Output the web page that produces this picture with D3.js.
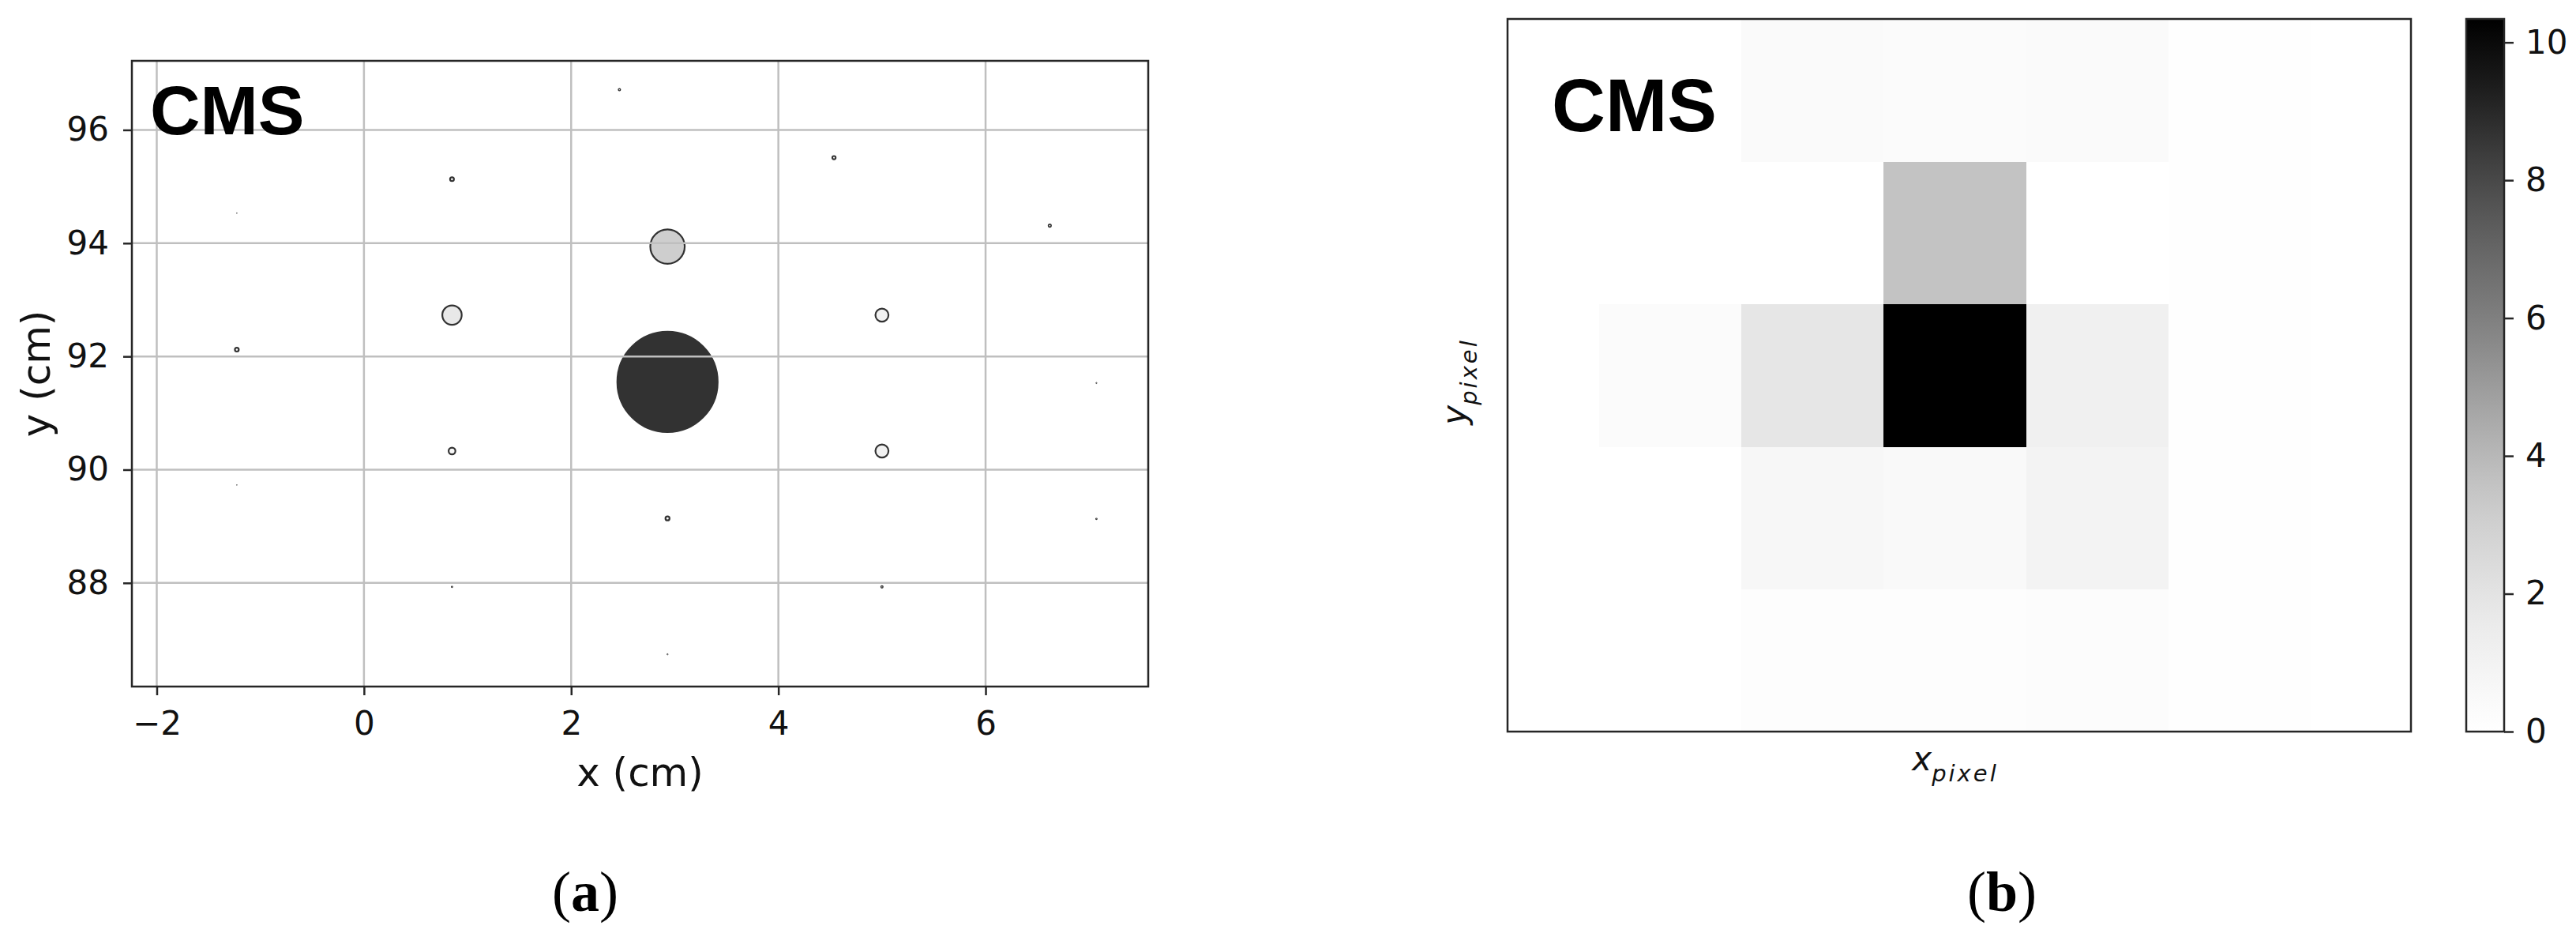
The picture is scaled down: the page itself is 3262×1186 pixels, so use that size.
<!DOCTYPE html>
<html>
<head>
    <meta charset="utf-8">
    <title>CMS hits and pixel image</title>
    <script src="https://d3js.org/d3.v7.min.js"></script>
    <style>
        body { margin: 0; background: #fff; }
    </style>
</head>
<body>
    <svg id="chart" width="3262" height="1186"></svg>

    <script>
        // hits on the hexagonal sensors (a)
        const hitX = [-1.227, -1.227, -1.227, 0.85, 0.85, 0.85, 0.85, 2.466, 2.93, 2.93, 2.93, 2.93, 4.537, 5.0, 5.0, 5.0, 6.62, 7.07, 7.07];
        const hitY = [94.53, 92.12, 89.73, 95.13, 92.73, 90.33, 87.93, 96.71, 93.94, 91.55, 89.14, 86.74, 95.51, 92.73, 90.33, 87.93, 94.31, 91.53, 89.13];
        const hitE = [0.08, 0.4, 0.08, 0.4, 2.0, 0.7, 0.15, 0.22, 3.55, 10.34, 0.42, 0.12, 0.35, 1.35, 1.35, 0.22, 0.28, 0.12, 0.15];
        const xTicks = [-2, 0, 2, 4, 6];
        const yTicks = [88, 90, 92, 94, 96];

        // pixelised image (b), rows top to bottom
        const pixelRows = [
            [0.00, 0.40, 0.33, 0.40, 0.05],
            [0.00, 0.00, 3.55, 0.00, 0.12],
            [0.35, 1.85, 10.34, 1.20, 0.10],
            [0.00, 0.70, 0.52, 1.02, 0.10],
            [0.00, 0.15, 0.15, 0.26, 0.10]
        ];
        const cbTicks = [0, 2, 4, 6, 8, 10];
        const eMax = 10.34;

        const svg = d3.select("#chart");
        svg.append("rect").attr("width", 3262).attr("height", 1186).attr("fill", "#fff");

        const grey = d3.scaleSequential(d3.interpolateGreys).domain([0, eMax]);
        const frameCol = "#262626";
        const sans = "DejaVu Sans";

        // ---------- panel (a) ----------
        const A = { left: 167, right: 1454, top: 77, bottom: 869 };
        const x = d3.scaleLinear().domain([-2.24, 7.57]).range([A.left, A.right]);
        const y = d3.scaleLinear().domain([86.17, 97.22]).range([A.bottom, A.top]);
        const r = d3.scaleLinear().domain([0, eMax]).range([0, 63.5]);

        svg.append("clipPath").attr("id", "clipA")
            .append("rect").attr("x", A.left).attr("y", A.top)
            .attr("width", A.right - A.left).attr("height", A.bottom - A.top);

        const hits = hitE.map((e, i) => ({ x: hitX[i], y: hitY[i], e: e }));

        svg.append("g").attr("clip-path", "url(#clipA)")
            .selectAll("circle").data(hits).join("circle")
            .attr("cx", d => x(d.x))
            .attr("cy", d => y(d.y))
            .attr("r", d => r(d.e))
            .attr("fill", d => grey(d.e))
            .attr("stroke", "#000")
            .attr("stroke-width", d => Math.min(2.2, 0.3 + r(d.e) * 0.8))
            .attr("opacity", 0.8);

        // grid sits on top of the markers
        const grid = svg.append("g").attr("stroke", "#bfbfbf").attr("stroke-width", 2.5);
        grid.selectAll(".gx").data(xTicks).join("line")
            .attr("x1", d => x(d)).attr("x2", d => x(d))
            .attr("y1", A.top).attr("y2", A.bottom);
        grid.selectAll(".gy").data(yTicks).join("line")
            .attr("y1", d => y(d)).attr("y2", d => y(d))
            .attr("x1", A.left).attr("x2", A.right);

        const xAxis = svg.append("g").attr("transform", `translate(0,${A.bottom})`)
            .call(d3.axisBottom(x).tickValues(xTicks).tickSize(11).tickPadding(20));
        const yAxis = svg.append("g").attr("transform", `translate(${A.left},0)`)
            .call(d3.axisLeft(y).tickValues(yTicks).tickSize(11).tickPadding(18));
        [xAxis, yAxis].forEach(g => {
            g.select(".domain").remove();
            g.selectAll("line").attr("stroke", frameCol).attr("stroke-width", 2.5);
            g.selectAll("text").attr("fill", "#111").style("font-family", sans).style("font-size", "42px");
        });

        svg.append("rect")
            .attr("x", A.left).attr("y", A.top)
            .attr("width", A.right - A.left).attr("height", A.bottom - A.top)
            .attr("fill", "none").attr("stroke", frameCol).attr("stroke-width", 2.5);

        svg.append("text").attr("x", 190).attr("y", 170)
            .style("font-family", "Liberation Sans").style("font-weight", "bold").style("font-size", "88px")
            .text("CMS");

        svg.append("text").attr("x", (A.left + A.right) / 2).attr("y", 995)
            .attr("text-anchor", "middle")
            .style("font-family", sans).style("font-size", "50px").attr("fill", "#111")
            .text("x (cm)");
        svg.append("text")
            .attr("transform", `translate(63,${(A.top + A.bottom) / 2}) rotate(-90)`)
            .attr("text-anchor", "middle")
            .style("font-family", sans).style("font-size", "50px").attr("fill", "#111")
            .text("y (cm)");

        // ---------- panel (b) ----------
        const B = { left: 1909, right: 3053, top: 24, bottom: 926 };
        const px = d3.scaleLinear().domain([-0.644, 5.705]).range([B.left, B.right]);
        const py = d3.scaleLinear().domain([0, 5]).range([B.top + 1, B.bottom]);

        const cells = [];
        pixelRows.forEach((row, j) => row.forEach((v, i) => cells.push({ i: i, j: j, v: v })));

        svg.append("g").selectAll("rect").data(cells).join("rect")
            .attr("x", d => px(d.i))
            .attr("y", d => py(d.j))
            .attr("width", d => px(d.i + 1) - px(d.i))
            .attr("height", d => py(d.j + 1) - py(d.j))
            .attr("fill", d => grey(d.v))
            .attr("shape-rendering", "crispEdges");

        svg.append("rect")
            .attr("x", B.left).attr("y", B.top)
            .attr("width", B.right - B.left).attr("height", B.bottom - B.top)
            .attr("fill", "none").attr("stroke", frameCol).attr("stroke-width", 2.5);

        svg.append("text").attr("x", 1965).attr("y", 166)
            .style("font-family", "Liberation Sans").style("font-weight", "bold").style("font-size", "94px")
            .text("CMS");

        const xl = svg.append("text").attr("x", 2476).attr("y", 975)
            .attr("text-anchor", "middle")
            .style("font-family", sans).style("font-style", "italic").style("font-size", "42px").attr("fill", "#111");
        xl.append("tspan").text("x");
        xl.append("tspan").attr("dy", 14).style("font-size", "29px").style("letter-spacing", "3px").text("pixel");

        const yl = svg.append("text")
            .attr("transform", `translate(1856,${(B.top + B.bottom) / 2 + 8}) rotate(-90)`)
            .attr("text-anchor", "middle")
            .style("font-family", sans).style("font-style", "italic").style("font-size", "42px").attr("fill", "#111");
        yl.append("tspan").text("y");
        yl.append("tspan").attr("dy", 14).style("font-size", "29px").style("letter-spacing", "3px").text("pixel");

        // colour bar
        const C = { left: 3123, right: 3171 };
        const cb = d3.scaleLinear().domain([0, eMax]).range([B.bottom, B.top]);
        const grad = svg.append("defs").append("linearGradient")
            .attr("id", "cbGrad").attr("x1", 0).attr("y1", 1).attr("x2", 0).attr("y2", 0);
        grad.selectAll("stop").data(d3.range(0, 1.0001, 0.05)).join("stop")
            .attr("offset", d => d)
            .attr("stop-color", d => d3.interpolateGreys(d));
        svg.append("rect")
            .attr("x", C.left).attr("y", B.top)
            .attr("width", C.right - C.left).attr("height", B.bottom - B.top)
            .attr("fill", "url(#cbGrad)").attr("stroke", frameCol).attr("stroke-width", 2.5);

        const cAxis = svg.append("g").attr("transform", `translate(${C.right},0)`)
            .call(d3.axisRight(cb).tickValues(cbTicks).tickSize(12).tickPadding(15));
        cAxis.select(".domain").remove();
        cAxis.selectAll("line").attr("stroke", frameCol).attr("stroke-width", 2.5);
        cAxis.selectAll("text").attr("fill", "#111").style("font-family", sans).style("font-size", "42px");

        // sub-figure captions
        [["a", 741], ["b", 2535]].forEach(([t, cx]) => {
            const cap = svg.append("text").attr("x", cx).attr("y", 1153)
                .attr("text-anchor", "middle")
                .style("font-family", "Liberation Serif").style("font-size", "72px");
            cap.append("tspan").text("(");
            cap.append("tspan").style("font-weight", "bold").text(t);
            cap.append("tspan").text(")");
        });
    </script>
</body>
</html>
